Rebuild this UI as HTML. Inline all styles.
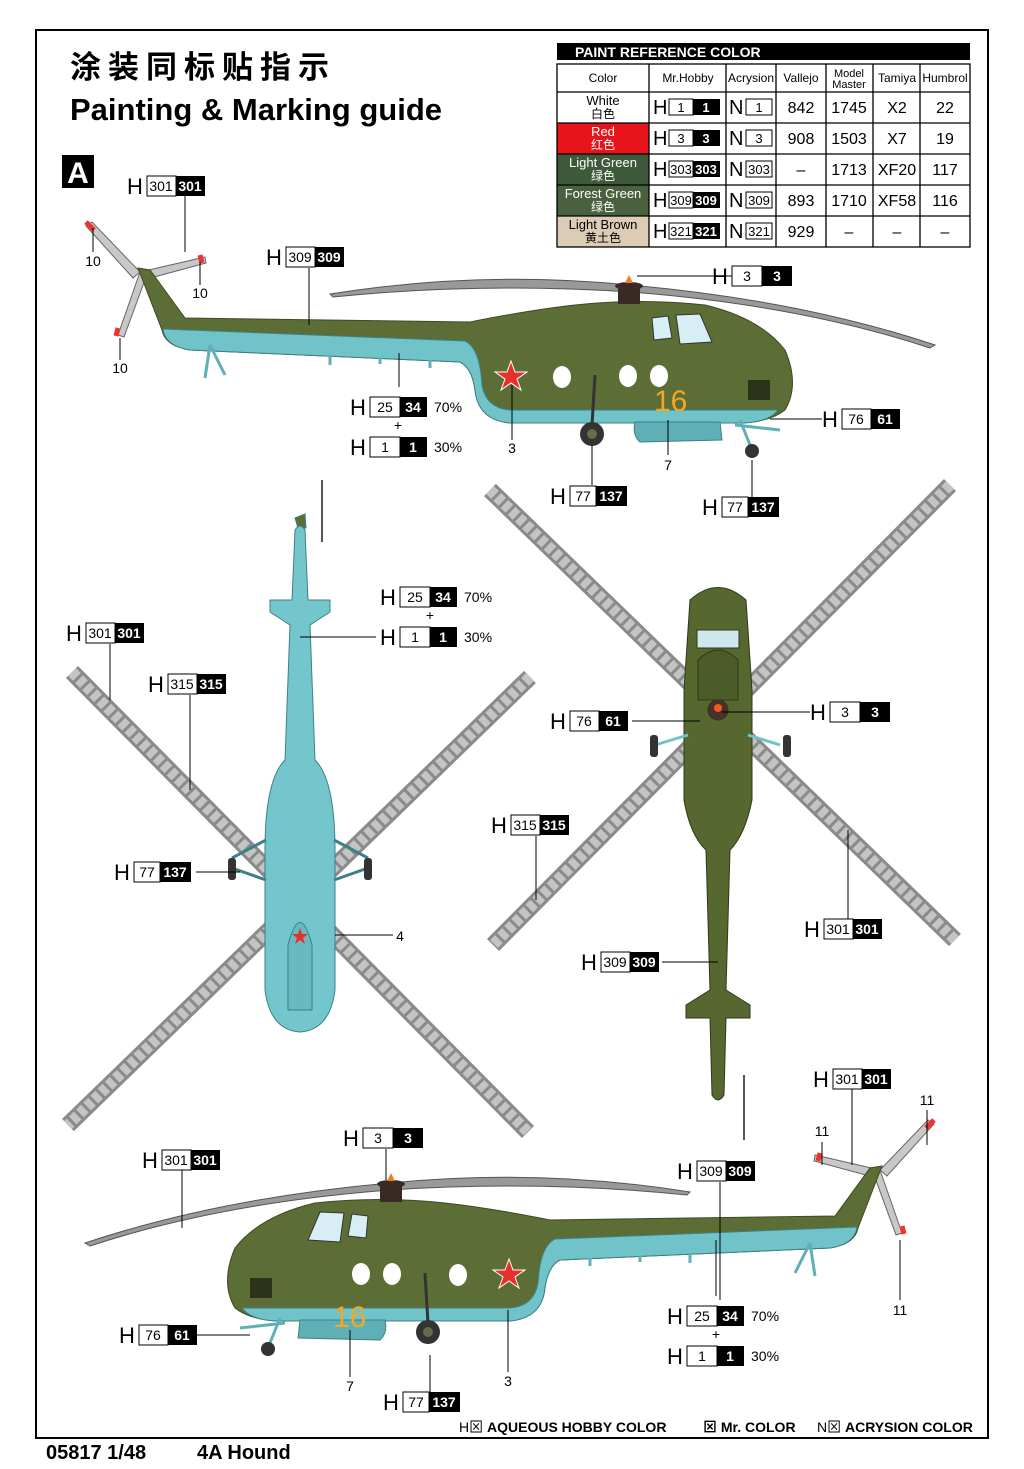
<!DOCTYPE html>
<html><head><meta charset="utf-8"><style>
html,body{margin:0;padding:0;background:#fff;}
svg{display:block;font-family:"Liberation Sans","Noto Sans CJK SC",sans-serif;}
.h{font-size:22px;}
.nw{font-size:14px;text-anchor:middle;}
.nb{font-size:14px;text-anchor:middle;fill:#fff;font-weight:bold;}
.n{font-size:14px;}
</style></head><body>
<svg width="1024" height="1469" viewBox="0 0 1024 1469" xmlns="http://www.w3.org/2000/svg">
<defs>
<g id="side">
  <path d="M330,294 Q480,270 630,285 Q800,300 935,345 L930,348 Q800,305 630,292 Q480,282 333,297 Z" fill="#999" stroke="#555" stroke-width="1"/>
  <g stroke="#666" stroke-width="1">
   <path d="M140,272 L92,222 L86,226 L133,278 Z" fill="#c8c8c8"/>
   <path d="M140,272 L205,257 L206,263 L143,280 Z" fill="#c8c8c8"/>
   <path d="M140,272 L118,335 L124,337 L146,277 Z" fill="#c8c8c8"/>
  </g>
  <path d="M86,222 l8,8" stroke="#e33" stroke-width="5"/>
  <path d="M200,255 l2,8" stroke="#e33" stroke-width="5"/>
  <path d="M118,328 l-2,8" stroke="#e33" stroke-width="5"/>
  <path d="M138,268 L150,270 L185,318 L470,322 Q530,310 575,305 Q640,298 705,305 Q760,318 785,350 Q800,385 785,410 Q770,422 740,423 L510,423 Q478,420 475,390 Q472,368 460,362 L190,350 Q165,346 162,330 Z" fill="#5d6d36" stroke="#3d4a22" stroke-width="1"/>
  <path d="M163,329 L465,341 Q480,348 482,385 Q486,408 510,410 L778,410 Q768,423 740,423 L510,423 Q478,420 475,390 Q472,368 460,362 L190,350 Q165,346 163,329 Z" fill="#6fc3c9" stroke="#3e8088" stroke-width="1"/>
  <path d="M635,422 L720,422 L722,440 L640,442 Q632,435 635,422 Z" fill="#5fb0b6" stroke="#3e8088"/>
  <path d="M652,318 L668,316 L672,338 L654,340 Z M676,315 L700,314 L712,342 L680,344 Z" fill="#d8eef5" stroke="#333"/>
  <rect x="618" y="286" width="22" height="18" fill="#3a2a25"/>
  <ellipse cx="629" cy="286" rx="14" ry="4" fill="#3a2a25"/>
  <path d="M625,283 l4,-8 l4,8 z" fill="#f08020"/>
  <rect x="748" y="380" width="22" height="20" fill="#2c3318"/>
  <path d="M595,375 L592,425" stroke="#333" stroke-width="3"/>
  <circle cx="592" cy="434" r="12" fill="#333"/><circle cx="592" cy="434" r="5" fill="#6a6a4a"/>
  <path d="M740,420 L752,450 M735,425 L780,430" stroke="#5fb0b6" stroke-width="3"/>
  <circle cx="752" cy="451" r="7" fill="#333"/>
  <path d="M210,345 L205,378 M210,345 L225,375" stroke="#5fb0b6" stroke-width="3"/>
  <path d="M330,355 v10 M380,358 v6 M430,360 v8" stroke="#5fb0b6" stroke-width="3"/>
  <ellipse cx="562" cy="377" rx="9" ry="11" fill="#fff"/>
  <ellipse cx="628" cy="376" rx="9" ry="11" fill="#fff"/>
  <ellipse cx="659" cy="376" rx="9" ry="11" fill="#fff"/>
  <path d="M511,361 L515,372 L527,372 L517,379 L521,390 L511,383 L501,390 L505,379 L495,372 L507,372 Z" fill="#e8302a" stroke="#fff" stroke-width="1"/>
</g>
</defs>

<rect x="36" y="30" width="952" height="1408" fill="none" stroke="#000" stroke-width="2"/>

<text x="70" y="78" font-size="31" font-family="'Noto Sans CJK SC',sans-serif" font-weight="bold" letter-spacing="7">涂装同标贴指示</text>
<text x="70" y="120" font-size="31" font-weight="bold">Painting &amp; Marking guide</text>
<rect x="62" y="155" width="32" height="33" fill="#000"/>
<text x="78" y="183" font-size="30" font-weight="bold" fill="#fff" text-anchor="middle">A</text>

<rect x="557" y="43" width="413" height="17" fill="#000"/>
<text x="575" y="57" font-size="14" font-weight="bold" fill="#fff">PAINT  REFERENCE COLOR</text>
<rect x="557" y="92" width="92" height="31" fill="#fff"/>
<rect x="557" y="123" width="92" height="31" fill="#e8141c"/>
<rect x="557" y="154" width="92" height="31" fill="#3f5a3a"/>
<rect x="557" y="185" width="92" height="31" fill="#4a6140"/>
<rect x="557" y="216" width="92" height="31" fill="#dccbb5"/>
<g stroke="#000" stroke-width="1.3" fill="none">
<rect x="557" y="64" width="413" height="183"/>
<path d="M557,92H970M557,123H970M557,154H970M557,185H970M557,216H970"/>
<path d="M649,64V247M726,64V247M776,64V247M826,64V247M873,64V247M920,64V247"/>
</g>
<g font-size="12" text-anchor="middle">
<text x="603" y="82">Color</text><text x="688" y="82">Mr.Hobby</text><text x="751" y="82">Acrysion</text>
<text x="801" y="82">Vallejo</text><text x="849" y="77" font-size="11">Model</text><text x="849" y="88" font-size="11">Master</text>
<text x="897" y="82">Tamiya</text><text x="945" y="82">Humbrol</text>
<text x="603" y="105" font-size="13">White</text><text x="603" y="118">白色</text>
<text x="603" y="136" font-size="13" fill="#fff">Red</text><text x="603" y="149" fill="#fff">红色</text>
<text x="603" y="167" font-size="13" fill="#fff">Light Green</text><text x="603" y="180" fill="#fff">绿色</text>
<text x="603" y="198" font-size="13" fill="#fff">Forest Green</text><text x="603" y="211" fill="#fff">绿色</text>
<text x="603" y="229" font-size="13">Light Brown</text><text x="603" y="242">黄土色</text>
</g>
<g font-size="16" text-anchor="middle">
<text x="801" y="113">842</text><text x="849" y="113">1745</text><text x="897" y="113">X2</text><text x="945" y="113">22</text>
<text x="801" y="144">908</text><text x="849" y="144">1503</text><text x="897" y="144">X7</text><text x="945" y="144">19</text>
<text x="801" y="175">–</text><text x="849" y="175">1713</text><text x="897" y="175">XF20</text><text x="945" y="175">117</text>
<text x="801" y="206">893</text><text x="849" y="206">1710</text><text x="897" y="206">XF58</text><text x="945" y="206">116</text>
<text x="801" y="237">929</text><text x="849" y="237">–</text><text x="897" y="237">–</text><text x="945" y="237">–</text>
</g>
<g font-size="20">
<text x="653" y="114">H</text><text x="653" y="145">H</text><text x="653" y="176">H</text><text x="653" y="207">H</text><text x="653" y="238">H</text>
<text x="729" y="114">N</text><text x="729" y="145">N</text><text x="729" y="176">N</text><text x="729" y="207">N</text><text x="729" y="238">N</text>
</g>
<g stroke="#000" fill="#fff"><rect x="669" y="99" width="24" height="16"/><rect x="669" y="130" width="24" height="16"/><rect x="669" y="161" width="24" height="16"/><rect x="669" y="192" width="24" height="16"/><rect x="669" y="223" width="24" height="16"/>
<rect x="746" y="99" width="26" height="16"/><rect x="746" y="130" width="26" height="16"/><rect x="746" y="161" width="26" height="16"/><rect x="746" y="192" width="26" height="16"/><rect x="746" y="223" width="26" height="16"/></g>
<g fill="#000"><rect x="693" y="99" width="27" height="16"/><rect x="693" y="130" width="27" height="16"/><rect x="693" y="161" width="27" height="16"/><rect x="693" y="192" width="27" height="16"/><rect x="693" y="223" width="27" height="16"/></g>
<g font-size="13" text-anchor="middle">
<text x="681" y="112">1</text><text x="681" y="143">3</text><text x="681" y="174">303</text><text x="681" y="205">309</text><text x="681" y="236">321</text>
<text x="759" y="112">1</text><text x="759" y="143">3</text><text x="759" y="174">303</text><text x="759" y="205">309</text><text x="759" y="236">321</text>
<g fill="#fff" font-weight="bold"><text x="706" y="112">1</text><text x="706" y="143">3</text><text x="706" y="174">303</text><text x="706" y="205">309</text><text x="706" y="236">321</text></g>
</g>

<g stroke-linecap="butt">
<line x1="72" y1="672" x2="528" y2="1132" stroke="#8a8a8a" stroke-width="17"/>
<line x1="72" y1="672" x2="528" y2="1132" stroke="#c4c4c4" stroke-width="11" stroke-dasharray="7 3"/>
<line x1="530" y1="677" x2="68" y2="1125" stroke="#8a8a8a" stroke-width="17"/>
<line x1="530" y1="677" x2="68" y2="1125" stroke="#c4c4c4" stroke-width="11" stroke-dasharray="7 3"/>
<line x1="490" y1="490" x2="955" y2="940" stroke="#8a8a8a" stroke-width="17"/>
<line x1="490" y1="490" x2="955" y2="940" stroke="#c4c4c4" stroke-width="11" stroke-dasharray="7 3"/>
<line x1="950" y1="485" x2="493" y2="945" stroke="#8a8a8a" stroke-width="17"/>
<line x1="950" y1="485" x2="493" y2="945" stroke="#c4c4c4" stroke-width="11" stroke-dasharray="7 3"/>
</g>

<g stroke="#3e8088" stroke-width="1" fill="#72c6cc">
<line x1="322" y1="480" x2="322" y2="542" stroke="#555" stroke-width="2"/>
<path d="M295,518 L305,514 L306,528 L298,528 Z" fill="#5d6d36"/>
<path d="M270,600 L292,600 L295,530 Q300,522 305,530 L308,600 L330,600 L330,612 L310,625 L315,760 Q335,780 335,850 L335,990 Q330,1030 300,1032 Q270,1030 265,990 L265,850 Q265,780 285,760 L290,625 L270,612 Z"/>
<path d="M232,858 L266,840 M368,858 L334,840 M232,868 L266,880 M368,868 L334,880" stroke="#3e8088" stroke-width="3"/>
<rect x="228" y="858" width="8" height="22" rx="3" fill="#333" stroke="none"/>
<rect x="364" y="858" width="8" height="22" rx="3" fill="#333" stroke="none"/>
<path d="M288,945 Q300,900 312,945 L312,1010 L288,1010 Z" fill="#68bac0"/>
<path d="M300,928 l2,6 l6,0 l-5,4 l2,6 l-5,-4 l-5,4 l2,-6 l-5,-4 l6,0 z" fill="#e8302a" stroke="none"/>
</g>

<g stroke="#2d3a18" stroke-width="1" fill="#56672f">
<path d="M690,600 Q718,575 746,600 L752,690 L752,800 Q745,835 730,850 L726,990 L750,1005 L750,1018 L726,1018 L724,1095 Q718,1105 712,1095 L710,1018 L686,1018 L686,1005 L710,990 L706,850 Q690,835 684,800 L684,690 Z"/>
<path d="M698,660 Q718,640 738,660 L738,700 L698,700 Z" fill="#4c5c29"/>
<rect x="697" y="630" width="42" height="18" fill="#cfe7ec"/>
<path d="M655,745 L688,735 M780,745 L748,735" stroke="#6fc3c9" stroke-width="3"/>
<rect x="650" y="735" width="8" height="22" rx="3" fill="#333" stroke="none"/>
<rect x="783" y="735" width="8" height="22" rx="3" fill="#333" stroke="none"/>
<circle cx="718" cy="710" r="10" fill="#4a3028"/>
<circle cx="718" cy="708" r="4" fill="#f05a20" stroke="none"/>
<line x1="744" y1="1075" x2="744" y2="1140" stroke="#555" stroke-width="2"/>
</g>

<use href="#side"/>
<g transform="translate(1020,898) scale(-1,1)"><use href="#side"/></g>
<text x="654" y="411" font-size="30" fill="#f5a623">16</text>
<text x="333" y="1327" font-size="30" fill="#f5a623">16</text>

<g stroke="#000" stroke-width="1" fill="none">
<path d="M185,196V252 M309,268V325 M399,387V353 M735,276H637 M592,485V445 M752,497V460 M822,419H770 M512,440V385 M668,455V420"/>
<path d="M376,637H300 M110,644V700 M190,695V790 M196,872H240 M335,935H393 M632,721H700 M810,712H722 M536,836V900 M848,920V830 M662,962H718"/>
<path d="M852,1089V1165 M386,1149V1180 M182,1170V1228 M720,1182V1300 M716,1296V1240 M190,1335H250 M430,1392V1355 M350,1377V1330 M508,1372V1310 M927,1110V1145 M822,1142V1165 M900,1300V1240 M93,252V228 M200,285V262 M120,360V338"/>
</g>

<g class="n" text-anchor="middle">
<text x="93" y="266">10</text><text x="200" y="298">10</text><text x="120" y="373">10</text>
<text x="512" y="453">3</text><text x="668" y="470">7</text><text x="400" y="941">4</text>
<text x="927" y="1105">11</text><text x="822" y="1136">11</text><text x="900" y="1315">11</text>
<text x="350" y="1391">7</text><text x="508" y="1386">3</text>
<text x="398" y="430">+</text><text x="430" y="620">+</text><text x="716" y="1339">+</text>
</g>

<g>
<g transform="translate(127,176)"><text class="h" y="18">H</text><rect x="20" y="0" width="29" height="20" fill="#fff" stroke="#000"/><rect x="49" y="0" width="29" height="20"/><text class="nw" x="34" y="15">301</text><text class="nb" x="63" y="15">301</text></g>
<g transform="translate(266,247)"><text class="h" y="18">H</text><rect x="20" y="0" width="29" height="20" fill="#fff" stroke="#000"/><rect x="49" y="0" width="29" height="20"/><text class="nw" x="34" y="15">309</text><text class="nb" x="63" y="15">309</text></g>
<g transform="translate(712,266)"><text class="h" y="18">H</text><rect x="20" y="0" width="30" height="20" fill="#fff" stroke="#000"/><rect x="50" y="0" width="30" height="20"/><text class="nw" x="35" y="15">3</text><text class="nb" x="65" y="15">3</text></g>
<g transform="translate(350,397)"><text class="h" y="18">H</text><rect x="20" y="0" width="30" height="20" fill="#fff" stroke="#000"/><rect x="50" y="0" width="27" height="20"/><text class="nw" x="35" y="15">25</text><text class="nb" x="63" y="15">34</text><text class="n" x="84" y="15">70%</text></g>
<g transform="translate(350,437)"><text class="h" y="18">H</text><rect x="20" y="0" width="30" height="20" fill="#fff" stroke="#000"/><rect x="50" y="0" width="27" height="20"/><text class="nw" x="35" y="15">1</text><text class="nb" x="63" y="15">1</text><text class="n" x="84" y="15">30%</text></g>
<g transform="translate(822,409)"><text class="h" y="18">H</text><rect x="20" y="0" width="29" height="20" fill="#fff" stroke="#000"/><rect x="49" y="0" width="29" height="20"/><text class="nw" x="34" y="15">76</text><text class="nb" x="63" y="15">61</text></g>
<g transform="translate(550,486)"><text class="h" y="18">H</text><rect x="20" y="0" width="26" height="20" fill="#fff" stroke="#000"/><rect x="46" y="0" width="31" height="20"/><text class="nw" x="33" y="15">77</text><text class="nb" x="61" y="15">137</text></g>
<g transform="translate(702,497)"><text class="h" y="18">H</text><rect x="20" y="0" width="26" height="20" fill="#fff" stroke="#000"/><rect x="46" y="0" width="31" height="20"/><text class="nw" x="33" y="15">77</text><text class="nb" x="61" y="15">137</text></g>
<g transform="translate(380,587)"><text class="h" y="18">H</text><rect x="20" y="0" width="30" height="20" fill="#fff" stroke="#000"/><rect x="50" y="0" width="27" height="20"/><text class="nw" x="35" y="15">25</text><text class="nb" x="63" y="15">34</text><text class="n" x="84" y="15">70%</text></g>
<g transform="translate(380,627)"><text class="h" y="18">H</text><rect x="20" y="0" width="30" height="20" fill="#fff" stroke="#000"/><rect x="50" y="0" width="27" height="20"/><text class="nw" x="35" y="15">1</text><text class="nb" x="63" y="15">1</text><text class="n" x="84" y="15">30%</text></g>
<g transform="translate(66,623)"><text class="h" y="18">H</text><rect x="20" y="0" width="29" height="20" fill="#fff" stroke="#000"/><rect x="49" y="0" width="29" height="20"/><text class="nw" x="34" y="15">301</text><text class="nb" x="63" y="15">301</text></g>
<g transform="translate(148,674)"><text class="h" y="18">H</text><rect x="20" y="0" width="29" height="20" fill="#fff" stroke="#000"/><rect x="49" y="0" width="29" height="20"/><text class="nw" x="34" y="15">315</text><text class="nb" x="63" y="15">315</text></g>
<g transform="translate(550,711)"><text class="h" y="18">H</text><rect x="20" y="0" width="29" height="20" fill="#fff" stroke="#000"/><rect x="49" y="0" width="29" height="20"/><text class="nw" x="34" y="15">76</text><text class="nb" x="63" y="15">61</text></g>
<g transform="translate(810,702)"><text class="h" y="18">H</text><rect x="20" y="0" width="30" height="20" fill="#fff" stroke="#000"/><rect x="50" y="0" width="30" height="20"/><text class="nw" x="35" y="15">3</text><text class="nb" x="65" y="15">3</text></g>
<g transform="translate(491,815)"><text class="h" y="18">H</text><rect x="20" y="0" width="29" height="20" fill="#fff" stroke="#000"/><rect x="49" y="0" width="29" height="20"/><text class="nw" x="34" y="15">315</text><text class="nb" x="63" y="15">315</text></g>
<g transform="translate(114,862)"><text class="h" y="18">H</text><rect x="20" y="0" width="26" height="20" fill="#fff" stroke="#000"/><rect x="46" y="0" width="31" height="20"/><text class="nw" x="33" y="15">77</text><text class="nb" x="61" y="15">137</text></g>
<g transform="translate(804,919)"><text class="h" y="18">H</text><rect x="20" y="0" width="29" height="20" fill="#fff" stroke="#000"/><rect x="49" y="0" width="29" height="20"/><text class="nw" x="34" y="15">301</text><text class="nb" x="63" y="15">301</text></g>
<g transform="translate(581,952)"><text class="h" y="18">H</text><rect x="20" y="0" width="29" height="20" fill="#fff" stroke="#000"/><rect x="49" y="0" width="29" height="20"/><text class="nw" x="34" y="15">309</text><text class="nb" x="63" y="15">309</text></g>
<g transform="translate(813,1069)"><text class="h" y="18">H</text><rect x="20" y="0" width="29" height="20" fill="#fff" stroke="#000"/><rect x="49" y="0" width="29" height="20"/><text class="nw" x="34" y="15">301</text><text class="nb" x="63" y="15">301</text></g>
<g transform="translate(343,1128)"><text class="h" y="18">H</text><rect x="20" y="0" width="30" height="20" fill="#fff" stroke="#000"/><rect x="50" y="0" width="30" height="20"/><text class="nw" x="35" y="15">3</text><text class="nb" x="65" y="15">3</text></g>
<g transform="translate(142,1150)"><text class="h" y="18">H</text><rect x="20" y="0" width="29" height="20" fill="#fff" stroke="#000"/><rect x="49" y="0" width="29" height="20"/><text class="nw" x="34" y="15">301</text><text class="nb" x="63" y="15">301</text></g>
<g transform="translate(677,1161)"><text class="h" y="18">H</text><rect x="20" y="0" width="29" height="20" fill="#fff" stroke="#000"/><rect x="49" y="0" width="29" height="20"/><text class="nw" x="34" y="15">309</text><text class="nb" x="63" y="15">309</text></g>
<g transform="translate(667,1306)"><text class="h" y="18">H</text><rect x="20" y="0" width="30" height="20" fill="#fff" stroke="#000"/><rect x="50" y="0" width="27" height="20"/><text class="nw" x="35" y="15">25</text><text class="nb" x="63" y="15">34</text><text class="n" x="84" y="15">70%</text></g>
<g transform="translate(667,1346)"><text class="h" y="18">H</text><rect x="20" y="0" width="30" height="20" fill="#fff" stroke="#000"/><rect x="50" y="0" width="27" height="20"/><text class="nw" x="35" y="15">1</text><text class="nb" x="63" y="15">1</text><text class="n" x="84" y="15">30%</text></g>
<g transform="translate(119,1325)"><text class="h" y="18">H</text><rect x="20" y="0" width="29" height="20" fill="#fff" stroke="#000"/><rect x="49" y="0" width="29" height="20"/><text class="nw" x="34" y="15">76</text><text class="nb" x="63" y="15">61</text></g>
<g transform="translate(383,1392)"><text class="h" y="18">H</text><rect x="20" y="0" width="26" height="20" fill="#fff" stroke="#000"/><rect x="46" y="0" width="31" height="20"/><text class="nw" x="33" y="15">77</text><text class="nb" x="61" y="15">137</text></g>
</g>

<text x="459" y="1432" font-size="14">H⊠ <tspan font-weight="bold">AQUEOUS HOBBY COLOR</tspan></text>
<text x="703" y="1432" font-size="14" font-weight="bold">⊠ Mr. COLOR</text>
<text x="817" y="1432" font-size="14">N⊠ <tspan font-weight="bold">ACRYSION COLOR</tspan></text>
<text x="46" y="1459" font-size="20" font-weight="bold">05817 1/48</text>
<text x="197" y="1459" font-size="20" font-weight="bold">4A Hound</text>
</svg>
</body></html>
